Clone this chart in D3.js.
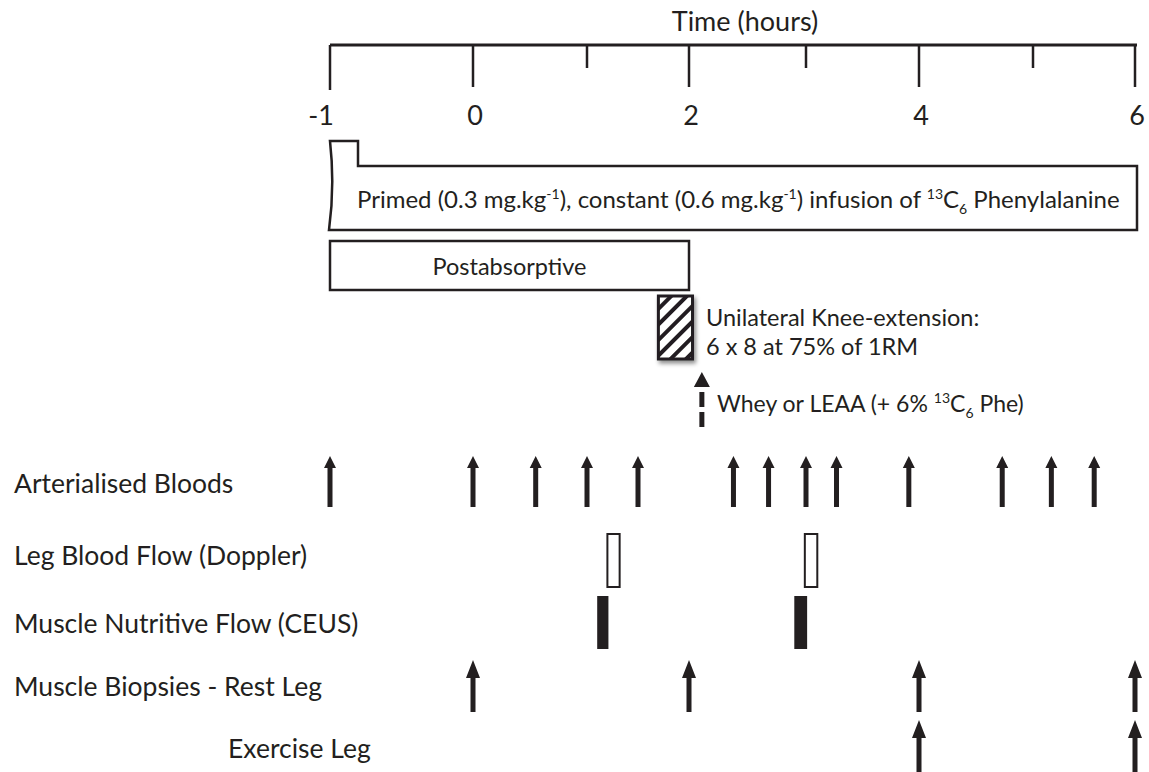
<!DOCTYPE html>
<html>
<head>
<meta charset="utf-8">
<script src="https://cdn.jsdelivr.net/npm/d3@7"></script>
<style>
  body { margin: 0; background: #fff; }
  text { font-family: Lato, "Open Sans", sans-serif; fill: #231f20; }
</style>
</head>
<body>
<div id="viz"><svg></svg></div>
<script>
const fullWidth = 1149;
const fullHeight = 772;

// time axis
const hourTicks = [-1, 0, 1, 2, 3, 4, 5, 6];
const hourLabels = [-1, 0, 2, 4, 6];
// the drawn axis is not evenly spaced, so map each hour to its position
const hourPositions = [330, 473, 587, 689, 806, 919, 1033, 1135];

// protocol blocks (hours)
const infusionSpan = [-1, 6];
const postabsorptiveSpan = [-1, 2];
const exerciseSpan = [1.7, 2.03];
const drinkTime = 2.11;

// sampling times (hours)
const bloodTimes = [-1, 0, 0.55, 1, 1.5, 2.38, 2.68, 3, 3.27, 3.91, 4.73, 5.18, 5.6];
const dopplerSpans = [[1.2, 1.32], [2.99, 3.1]];
const ceusSpans = [[1.1, 1.21], [2.9, 3.01]];
const biopsyRestTimes = [0, 2, 4, 6];
const biopsyExerciseTimes = [4, 6];

const rowLabels = [
  'Arterialised Bloods',
  'Leg Blood Flow (Doppler)',
  'Muscle Nutritive Flow (CEUS)',
  'Muscle Biopsies - Rest Leg',
  'Exercise Leg'
];

const ink = '#231f20';

const svg = d3.select('#viz svg')
  .attr('width', fullWidth)
  .attr('height', fullHeight);

const x = d3.scaleLinear().domain(hourTicks).range(hourPositions);

const defs = svg.append('defs');

const hatch = defs.append('pattern')
  .attr('id', 'hatch')
  .attr('patternUnits', 'userSpaceOnUse')
  .attr('width', 11)
  .attr('height', 11)
  .attr('patternTransform', 'rotate(45)');
hatch.append('rect').attr('width', 11).attr('height', 11).attr('fill', '#fff');
hatch.append('rect').attr('width', 4).attr('height', 11).attr('fill', ink);

const shadow = defs.append('filter').attr('id', 'shadow')
  .attr('x', '-30%').attr('y', '-30%').attr('width', '160%').attr('height', '160%');
shadow.append('feDropShadow')
  .attr('dx', 2).attr('dy', 3).attr('stdDeviation', 2)
  .attr('flood-color', '#000').attr('flood-opacity', 0.45);

// ---- axis ----
const axisY = 45;

svg.append('text')
  .attr('x', 745)
  .attr('y', 31)
  .attr('text-anchor', 'middle')
  .attr('font-size', 27)
  .text('Time (hours)');

svg.append('line')
  .attr('x1', x(-1)).attr('x2', x(6) + 2)
  .attr('y1', axisY).attr('y2', axisY)
  .attr('stroke', ink).attr('stroke-width', 3);

svg.selectAll('.tick')
  .data(hourTicks)
  .enter().append('line')
  .attr('class', 'tick')
  .attr('x1', d => x(d)).attr('x2', d => x(d))
  .attr('y1', axisY)
  .attr('y2', d => d === -1 ? 90 : (hourLabels.includes(d) ? 87 : 68))
  .attr('stroke', ink).attr('stroke-width', 2.5);

svg.selectAll('.tickLabel')
  .data(hourLabels)
  .enter().append('text')
  .attr('class', 'tickLabel')
  .attr('x', d => x(d) + (d === -1 ? -9 : 2))
  .attr('y', 125)
  .attr('text-anchor', 'middle')
  .attr('font-size', 27)
  .text(d => d);

// ---- infusion block with the priming notch ----
const notchTop = 141, boxTop = 166, boxBottom = 230;
const x0 = x(infusionSpan[0]), x1 = x(infusionSpan[1]) + 2;
svg.append('path')
  .attr('d', `M${x0},${notchTop} L${x0 + 28},${notchTop} L${x0 + 28},${boxTop}` +
    ` L${x1},${boxTop} L${x1},${boxBottom} L${x0 - 1},${boxBottom}` +
    ` Q${x0 + 5},${(notchTop + boxBottom) / 2} ${x0},${notchTop} Z`)
  .attr('fill', '#fff')
  .attr('stroke', ink)
  .attr('stroke-width', 2.5);

const infText = svg.append('text')
  .attr('x', 357)
  .attr('y', 208)
  .attr('font-size', 24);
infText.append('tspan').text('Primed (0.3 mg.kg');
infText.append('tspan').attr('font-size', 14).attr('dy', -9).text('-1');
infText.append('tspan').attr('dy', 9).text('), constant (0.6 mg.kg');
infText.append('tspan').attr('font-size', 14).attr('dy', -9).text('-1');
infText.append('tspan').attr('dy', 9).text(') infusion of ');
infText.append('tspan').attr('font-size', 14).attr('dy', -9).text('13');
infText.append('tspan').attr('dy', 9).text('C');
infText.append('tspan').attr('font-size', 14).attr('dy', 6).text('6');
infText.append('tspan').attr('dy', -6).text(' Phenylalanine');

// ---- postabsorptive block ----
svg.append('rect')
  .attr('x', x(postabsorptiveSpan[0]))
  .attr('y', 241)
  .attr('width', x(postabsorptiveSpan[1]) - x(postabsorptiveSpan[0]))
  .attr('height', 49)
  .attr('fill', '#fff')
  .attr('stroke', ink)
  .attr('stroke-width', 2.5);

svg.append('text')
  .attr('x', (x(postabsorptiveSpan[0]) + x(postabsorptiveSpan[1])) / 2)
  .attr('y', 275)
  .attr('text-anchor', 'middle')
  .attr('font-size', 23.5)
  .text('Postabsorptive');

// ---- exercise bout ----
svg.append('rect')
  .attr('x', x(exerciseSpan[0]))
  .attr('y', 296)
  .attr('width', x(exerciseSpan[1]) - x(exerciseSpan[0]))
  .attr('height', 63)
  .attr('fill', 'url(#hatch)')
  .attr('stroke', ink)
  .attr('stroke-width', 3)
  .attr('filter', 'url(#shadow)');

svg.append('text')
  .attr('x', 706).attr('y', 326)
  .attr('font-size', 23.5)
  .text('Unilateral Knee-extension:');
svg.append('text')
  .attr('x', 706).attr('y', 355)
  .attr('font-size', 23.5)
  .text('6 x 8 at 75% of 1RM');

// ---- drink, dashed arrow ----
const dx = x(drinkTime);
svg.append('path')
  .attr('d', `M${dx},372 L${dx + 8},387 L${dx - 8},387 Z`)
  .attr('fill', ink);
svg.append('line')
  .attr('x1', dx).attr('x2', dx)
  .attr('y1', 392).attr('y2', 432)
  .attr('stroke', ink).attr('stroke-width', 5)
  .attr('stroke-dasharray', '15,5');

const wheyText = svg.append('text')
  .attr('x', 717).attr('y', 412)
  .attr('font-size', 23);
wheyText.append('tspan').text('Whey or LEAA (+ 6% ');
wheyText.append('tspan').attr('font-size', 14).attr('dy', -9).text('13');
wheyText.append('tspan').attr('dy', 9).text('C');
wheyText.append('tspan').attr('font-size', 14).attr('dy', 6).text('6');
wheyText.append('tspan').attr('dy', -6).text(' Phe)');

// ---- sampling rows ----
function arrowPath(cx, tip, bottom, headW, headH, shaftW) {
  const p = d3.path();
  p.moveTo(cx, tip);
  p.lineTo(cx + headW / 2, tip + headH);
  p.lineTo(cx + shaftW / 2, tip + headH);
  p.lineTo(cx + shaftW / 2, bottom);
  p.lineTo(cx - shaftW / 2, bottom);
  p.lineTo(cx - shaftW / 2, tip + headH);
  p.lineTo(cx - headW / 2, tip + headH);
  p.closePath();
  return p.toString();
}

svg.selectAll('.blood')
  .data(bloodTimes)
  .enter().append('path')
  .attr('class', 'blood')
  .attr('d', d => arrowPath(x(d), 456, 507, 12, 12, 5))
  .attr('fill', ink);

svg.selectAll('.doppler')
  .data(dopplerSpans)
  .enter().append('rect')
  .attr('class', 'doppler')
  .attr('x', d => x(d[0]))
  .attr('y', 534)
  .attr('width', d => x(d[1]) - x(d[0]))
  .attr('height', 53)
  .attr('fill', '#fff')
  .attr('stroke', ink)
  .attr('stroke-width', 2);

svg.selectAll('.ceus')
  .data(ceusSpans)
  .enter().append('rect')
  .attr('class', 'ceus')
  .attr('x', d => x(d[0]))
  .attr('y', 596)
  .attr('width', d => x(d[1]) - x(d[0]))
  .attr('height', 53)
  .attr('fill', ink);

svg.selectAll('.biopsyRest')
  .data(biopsyRestTimes)
  .enter().append('path')
  .attr('class', 'biopsyRest')
  .attr('d', d => arrowPath(x(d), 660, 712, 14, 18, 5))
  .attr('fill', ink);

svg.selectAll('.biopsyEx')
  .data(biopsyExerciseTimes)
  .enter().append('path')
  .attr('class', 'biopsyEx')
  .attr('d', d => arrowPath(x(d), 720, 772, 14, 18, 5))
  .attr('fill', ink);

// row labels
const labelPos = [[14, 493], [14, 565], [14, 633], [14, 696], [228, 758]];
svg.selectAll('.rowLabel')
  .data(rowLabels)
  .enter().append('text')
  .attr('class', 'rowLabel')
  .attr('x', (d, i) => labelPos[i][0])
  .attr('y', (d, i) => labelPos[i][1])
  .attr('font-size', 26.5)
  .text(d => d);
</script>
</body>
</html>
